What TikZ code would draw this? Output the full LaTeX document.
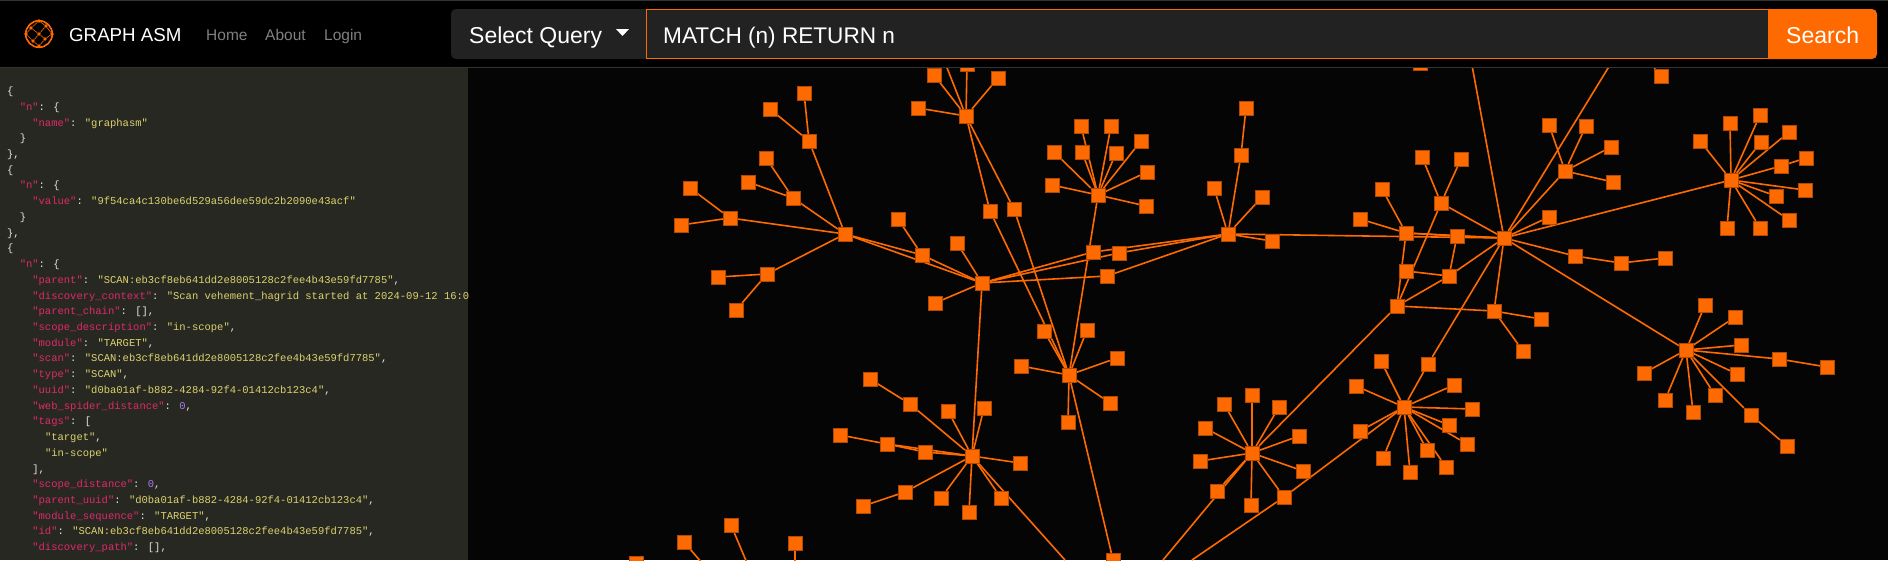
\documentclass[tikz,border=0pt]{standalone}
\usepackage{fontspec}
\setmainfont{Liberation Sans}
\newfontfamily\codefont{Liberation Mono}
\pgfdeclarelayer{backdrop}
\pgfdeclarelayer{edges}
\pgfsetlayers{backdrop,edges,main}
\definecolor{nodeorange}{HTML}{FF6A00}
\definecolor{nodeborder}{HTML}{B04A05}
\definecolor{graphbg}{HTML}{050505}
\definecolor{panelbg}{HTML}{272822}
\definecolor{fieldbg}{HTML}{222222}
\definecolor{navgrey}{HTML}{808080}
\definecolor{rulegrey}{HTML}{333333}
\definecolor{jsonkey}{HTML}{E0286C}
\definecolor{jsonstr}{HTML}{DDD26E}
\definecolor{jsonnum}{HTML}{A57BF0}
\definecolor{jsonpunct}{HTML}{E4E4DE}
\newcommand{\jkey}[1]{\textcolor{jsonkey}{"#1"}}
\newcommand{\jstr}[1]{\textcolor{jsonstr}{"#1"}}
\newcommand{\jnum}[1]{\textcolor{jsonnum}{#1}}

\begin{document}
\begin{tikzpicture}[x=1pt,y=-1pt]

    \tikzstyle{sq}=[draw=nodeborder,line width=0.6pt,fill=nodeorange,inner sep=0pt,minimum size=13.6pt]
    \tikzstyle{every edge}=[draw=nodeorange,line width=1.6pt]
    \tikzstyle{codeline}=[anchor=base west,inner sep=0pt,text=jsonpunct,font=\codefont\fontsize{10.5}{12}\selectfont]
    \tikzstyle{uitext}=[anchor=base west,inner sep=0pt,text=white,font=\fontsize{23}{26}\selectfont]
    \tikzstyle{navtext}=[anchor=base west,inner sep=0pt,text=navgrey,font=\fontsize{15.5}{18}\selectfont]
    \tikzstyle{logodot}=[circle,fill=nodeorange,inner sep=0pt,minimum size=3.6pt]

    \useasboundingbox (0,0) rectangle (1888,560);

    \begin{pgfonlayer}{backdrop}
    \fill[graphbg] (0,0) rectangle (1888,560);
    \end{pgfonlayer}

    % upper left arm
    \node[sq] (a1) at (804,93) {};
    \node[sq] (a2) at (770,109) {};
    \node[sq] (a3) at (809,141) {};
    \node[sq] (b1) at (766,158) {};
    \node[sq] (b2) at (748,182) {};
    \node[sq] (b3) at (793,198) {};
    \node[sq] (c1) at (690,188) {};
    \node[sq] (c2) at (730,218) {};
    \node[sq] (c3) at (681,225) {};
    \node[sq] (hubA) at (845,234) {};
    \node[sq] (d1) at (898,219) {};
    \node[sq] (d2) at (922,255) {};
    \node[sq] (e1) at (767,274) {};
    \node[sq] (e2) at (718,277) {};
    \node[sq] (e3) at (736,310) {};

    % top cluster
    \node[sq] (hubT) at (966,116) {};
    \node[sq] (t1) at (934,75) {};
    \node[sq] (t2) at (918,108) {};
    \node[sq] (t3) at (998,78) {};
    \node[sq] (t4) at (967,64) {};
    \coordinate (freeT) at (940,50);

    % middle
    \node[sq] (f1) at (957,243) {};
    \node[sq] (f2) at (935,303) {};
    \node[sq] (hubB) at (982,283) {};
    \node[sq] (g1) at (990,211) {};
    \node[sq] (g2) at (1014,209) {};
    \node[sq] (i1) at (1093,252) {};
    \node[sq] (i2) at (1119,253) {};
    \node[sq] (i3) at (1107,276) {};

    \node[sq] (hubC) at (1098,195) {};
    \node[sq] (h1) at (1081,126) {};
    \node[sq] (h2) at (1111,126) {};
    \node[sq] (h3) at (1054,152) {};
    \node[sq] (h4) at (1082,152) {};
    \node[sq] (h5) at (1116,153) {};
    \node[sq] (h6) at (1141,141) {};
    \node[sq] (h7) at (1147,172) {};
    \node[sq] (h8) at (1052,185) {};
    \node[sq] (h9) at (1146,206) {};

    \node[sq] (hubD) at (1069,375) {};
    \node[sq] (j1) at (1044,331) {};
    \node[sq] (j2) at (1087,330) {};
    \node[sq] (j3) at (1021,366) {};
    \node[sq] (j4) at (1117,358) {};
    \node[sq] (j5) at (1110,403) {};
    \node[sq] (j6) at (1068,422) {};
    \node[sq] (bot1) at (1113,560) {};

    \node[sq] (hubE) at (1228,234) {};
    \node[sq] (k1) at (1246,108) {};
    \node[sq] (k2) at (1241,155) {};
    \node[sq] (k3) at (1214,188) {};
    \node[sq] (k4) at (1262,197) {};
    \node[sq] (k5) at (1272,241) {};

    % right of middle
    \node[sq] (hubF) at (1406,233) {};
    \node[sq] (m1) at (1382,189) {};
    \node[sq] (m2) at (1360,219) {};
    \node[sq] (m3) at (1457,236) {};
    \node[sq] (n1) at (1406,271) {};
    \node[sq] (n2) at (1449,276) {};
    \node[sq] (hubG) at (1441,203) {};
    \node[sq] (g3) at (1422,157) {};
    \node[sq] (g4) at (1461,159) {};
    \node[sq] (hubI) at (1397,306) {};
    \node[sq] (o1) at (1494,311) {};
    \node[sq] (o2) at (1541,319) {};
    \node[sq] (o3) at (1523,351) {};
    \node[sq] (hubH) at (1504,238) {};
    \node[sq] (q1) at (1549,217) {};
    \node[sq] (q2) at (1575,256) {};
    \node[sq] (q3) at (1621,263) {};
    \node[sq] (q4) at (1665,258) {};
    \node[sq] (hubJ) at (1565,171) {};
    \node[sq] (r1) at (1549,125) {};
    \node[sq] (r2) at (1586,126) {};
    \node[sq] (r3) at (1611,147) {};
    \node[sq] (r4) at (1613,182) {};
    \node[sq] (top1) at (1420,63) {};
    \node[sq] (top2) at (1661,76) {};
    \coordinate (freeH1) at (1471,60);
    \coordinate (freeH2) at (1613,60);
    \coordinate (freeH3) at (1648,60);

    % far right top
    \node[sq] (hubK) at (1731,180) {};
    \node[sq] (s1) at (1700,141) {};
    \node[sq] (s2) at (1730,123) {};
    \node[sq] (s3) at (1760,115) {};
    \node[sq] (s4) at (1789,132) {};
    \node[sq] (s5) at (1761,142) {};
    \node[sq] (s6) at (1781,166) {};
    \node[sq] (s7) at (1806,158) {};
    \node[sq] (s8) at (1805,190) {};
    \node[sq] (s9) at (1776,196) {};
    \node[sq] (s10) at (1789,220) {};
    \node[sq] (s11) at (1760,228) {};
    \node[sq] (s12) at (1727,228) {};

    % far right bottom
    \node[sq] (hubN) at (1686,350) {};
    \node[sq] (u1) at (1705,305) {};
    \node[sq] (u2) at (1735,317) {};
    \node[sq] (u3) at (1741,345) {};
    \node[sq] (u4) at (1779,359) {};
    \node[sq] (u5) at (1827,367) {};
    \node[sq] (u6) at (1737,374) {};
    \node[sq] (u7) at (1644,373) {};
    \node[sq] (u8) at (1665,400) {};
    \node[sq] (u9) at (1693,412) {};
    \node[sq] (u10) at (1715,395) {};
    \node[sq] (u11) at (1751,415) {};
    \node[sq] (u12) at (1787,446) {};

    % lower clusters
    \node[sq] (hubL) at (1404,407) {};
    \node[sq] (p1) at (1428,364) {};
    \node[sq] (p2) at (1381,361) {};
    \node[sq] (p3) at (1356,386) {};
    \node[sq] (p4) at (1454,385) {};
    \node[sq] (p5) at (1472,409) {};
    \node[sq] (p6) at (1449,425) {};
    \node[sq] (p7) at (1467,444) {};
    \node[sq] (p8) at (1360,431) {};
    \node[sq] (p9) at (1427,450) {};
    \node[sq] (p10) at (1446,467) {};
    \node[sq] (p11) at (1383,458) {};
    \node[sq] (p12) at (1410,472) {};

    \node[sq] (hubM) at (1252,453) {};
    \node[sq] (v1) at (1252,395) {};
    \node[sq] (v2) at (1224,404) {};
    \node[sq] (v3) at (1279,407) {};
    \node[sq] (v4) at (1205,428) {};
    \node[sq] (v5) at (1299,436) {};
    \node[sq] (v6) at (1200,461) {};
    \node[sq] (v7) at (1303,471) {};
    \node[sq] (v8) at (1217,491) {};
    \node[sq] (v9) at (1251,505) {};
    \node[sq] (v10) at (1284,497) {};
    \coordinate (freeM1) at (1163,560);
    \coordinate (freeM2) at (1192,560);

    \node[sq] (hubO) at (972,456) {};
    \node[sq] (w1) at (870,379) {};
    \node[sq] (w2) at (910,404) {};
    \node[sq] (w3) at (948,411) {};
    \node[sq] (w4) at (984,408) {};
    \node[sq] (w5) at (840,435) {};
    \node[sq] (w6) at (887,444) {};
    \node[sq] (w7) at (925,452) {};
    \node[sq] (w8) at (1020,463) {};
    \node[sq] (w9) at (905,492) {};
    \node[sq] (w10) at (863,506) {};
    \node[sq] (w11) at (941,498) {};
    \node[sq] (w12) at (969,512) {};
    \node[sq] (w13) at (1001,498) {};
    \coordinate (freeO) at (1065,560);

    \node[sq] (x1) at (731,525) {};
    \node[sq] (x2) at (684,542) {};
    \node[sq] (x3) at (795,543) {};
    \node[sq] (x4) at (636,563) {};
    \coordinate (freeX1) at (747,563);
    \coordinate (freeX2) at (702,563);
    \coordinate (freeX3) at (795,563);

    \begin{pgfonlayer}{edges}
    \path (hubA) edge (a3) edge (b3) edge (c2) edge (e1) edge (d2) edge (hubB);
    \path (a3) edge (a1) edge (a2);
    \path (b3) edge (b1) edge (b2);
    \path (c2) edge (c1) edge (c3);
    \path (e1) edge (e2) edge (e3);
    \path (d2) edge (d1) edge (hubB);
    \path (hubT) edge (t1) edge (t2) edge (t3) edge (t4) edge (freeT) edge (g1) edge (g2);
    \path (hubB) edge (f1) edge (f2) edge (i1) edge (i2) edge (i3) edge (hubO);
    \path (hubE) edge (i1) edge (i2) edge (i3) edge (k2) edge (k3) edge (k4) edge (k5) edge (hubH);
    \path (k2) edge (k1);
    \path (hubC) edge (h1) edge (h2) edge (h3) edge (h4) edge (h5) edge (h6) edge (h7) edge (h8) edge (h9) edge (hubD);
    \path (hubD) edge (g1) edge (g2) edge (j1) edge (j2) edge (j3) edge (j4) edge (j5) edge (j6) edge (bot1);
    \path (hubF) edge (m1) edge (m2) edge (m3) edge (hubH) edge (hubI);
    \path (hubG) edge (g3) edge (g4) edge (hubH) edge (hubI);
    \path (n1) edge (n2);
    \path (n2) edge (m3) edge (hubH) edge (hubI);
    \path (hubI) edge (o1) edge (hubM);
    \path (o1) edge (hubH) edge (o2) edge (o3);
    \path (hubH) edge (m3) edge (q1) edge (q2) edge (hubJ) edge (hubK) edge (hubN) edge (p1) edge (freeH1) edge (freeH2);
    \path (q2) edge (q3);
    \path (q3) edge (q4);
    \path (top2) edge (freeH3);
    \path (hubJ) edge (r1) edge (r2) edge (r3) edge (r4);
    \path (hubK) edge (s1) edge (s2) edge (s3) edge (s4) edge (s5) edge (s6) edge (s8) edge (s9) edge (s10) edge (s11) edge (s12);
    \path (s6) edge (s7);
    \path (hubN) edge (u1) edge (u2) edge (u3) edge (u4) edge (u6) edge (u7) edge (u8) edge (u9) edge (u10) edge (u11);
    \path (u4) edge (u5);
    \path (u11) edge (u12);
    \path (hubL) edge (p1) edge (p2) edge (p3) edge (p4) edge (p5) edge (p6) edge (p7) edge (p8) edge (p9) edge (p10) edge (p11) edge (p12) edge (v10);
    \path (v10) edge (hubM) edge (freeM2);
    \path (hubM) edge (v1) edge (v2) edge (v3) edge (v4) edge (v5) edge (v6) edge (v7) edge (v8) edge (v9) edge (freeM1);
    \path (hubO) edge (w2) edge (w3) edge (w4) edge (w6) edge (w7) edge (w8) edge (w9) edge (w11) edge (w12) edge (w13) edge (freeO);
    \path (w1) edge (w2);
    \path (w5) edge (w6);
    \path (w6) edge (w7);
    \path (w9) edge (w10);
    \path (x1) edge (freeX1);
    \path (x2) edge (freeX2);
    \path (x3) edge (freeX3);
    \end{pgfonlayer}

    % header
    \fill[black] (0,0) rectangle (1888,67);
    \fill[rulegrey] (0,0) rectangle (1888,1);
    \fill[rulegrey] (0,67) rectangle (1888,68);

    \draw[nodeorange,line width=1.6pt] (39,34) circle (13.3);
    \node[logodot] (l1) at (39,34) {};
    \node[logodot] (l2) at (31,28) {};
    \node[logodot] (l3) at (46,26) {};
    \node[logodot] (l4) at (33,41) {};
    \node[logodot] (l5) at (45,39) {};
    \node[logodot] (l6) at (39,21) {};
    \node[logodot] (l7) at (26,34) {};
    \node[logodot] (l8) at (52,34) {};
    \node[logodot] (l9) at (39,46) {};
    \draw[nodeorange,line width=0.6pt] (l1) -- (l2) (l1) -- (l3) (l1) -- (l4) (l1) -- (l5) (l2) -- (l6) (l3) -- (l6) (l2) -- (l7) (l4) -- (l7) (l3) -- (l8) (l5) -- (l8) (l4) -- (l9) (l5) -- (l9);

    \node[anchor=base west,inner sep=0pt,text=white,font=\fontsize{18.7}{22}\selectfont] (brand) at (69,41) {GRAPH ASM};
    \node[navtext] (home) at (206,40) {Home};
    \node[navtext] (about) at (265,40) {About};
    \node[navtext] (login) at (324,40) {Login};

    \fill[fieldbg] (646,9) [rounded corners=5] -- (451,9) -- (451,59) [sharp corners] -- (646,59) -- cycle;
    \node[uitext] (select) at (469,43) {Select Query};
    \fill[white] (616,29) -- (629,29) -- (622.5,36) -- cycle;
    \draw[fill=fieldbg,draw=nodeorange,line width=1pt] (646.5,9.5) rectangle (1768,58.5);
    \node[uitext,font=\fontsize{22.6}{26}\selectfont] (query) at (663,43) {MATCH (n) RETURN n};
    \fill[nodeorange] (1768,9) [rounded corners=5] -- (1877,9) -- (1877,59) [sharp corners] -- (1768,59) -- cycle;
    \node[uitext] (search) at (1786,43) {Search};

    % result panel
    \fill[panelbg] (0,68) rectangle (468,560);
    \begin{scope}
    \clip (0,68) rectangle (468,560);
    \node[codeline] (r0) at (7,94.5) {\{};
    \node[codeline] (r1l) at (19.6,110.2) {\jkey{n}: \{};
    \node[codeline] (r2l) at (32.2,126) {\jkey{name}: \jstr{graphasm}};
    \node[codeline] (r3l) at (19.6,141.7) {\}};
    \node[codeline] (r4l) at (7,157.4) {\},};
    \node[codeline] (r5l) at (7,173.2) {\{};
    \node[codeline] (r6l) at (19.6,188.9) {\jkey{n}: \{};
    \node[codeline] (r7l) at (32.2,204.6) {\jkey{value}: \jstr{9f54ca4c130be6d529a56dee59dc2b2090e43acf}};
    \node[codeline] (r8l) at (19.6,220.3) {\}};
    \node[codeline] (r9l) at (7,236.1) {\},};
    \node[codeline] (r10l) at (7,251.8) {\{};
    \node[codeline] (r11l) at (19.6,267.5) {\jkey{n}: \{};
    \node[codeline] (r12l) at (32.2,283.3) {\jkey{parent}: \jstr{SCAN:eb3cf8eb641dd2e8005128c2fee4b43e59fd7785},};
    \node[codeline] (r13l) at (32.2,299) {\jkey{discovery\_context}: \jstr{Scan vehement\_hagrid started at 2024-09-12 16:02}};
    \node[codeline] (r14l) at (32.2,314.7) {\jkey{parent\_chain}: [],};
    \node[codeline] (r15l) at (32.2,330.5) {\jkey{scope\_description}: \jstr{in-scope},};
    \node[codeline] (r16l) at (32.2,346.2) {\jkey{module}: \jstr{TARGET},};
    \node[codeline] (r17l) at (32.2,361.9) {\jkey{scan}: \jstr{SCAN:eb3cf8eb641dd2e8005128c2fee4b43e59fd7785},};
    \node[codeline] (r18l) at (32.2,377.6) {\jkey{type}: \jstr{SCAN},};
    \node[codeline] (r19l) at (32.2,393.4) {\jkey{uuid}: \jstr{d0ba01af-b882-4284-92f4-01412cb123c4},};
    \node[codeline] (r20l) at (32.2,409.1) {\jkey{web\_spider\_distance}: \jnum{0},};
    \node[codeline] (r21l) at (32.2,424.8) {\jkey{tags}: [};
    \node[codeline] (r22l) at (44.8,440.6) {\jstr{target},};
    \node[codeline] (r23l) at (44.8,456.3) {\jstr{in-scope}};
    \node[codeline] (r24l) at (32.2,472) {],};
    \node[codeline] (r25l) at (32.2,487.8) {\jkey{scope\_distance}: \jnum{0},};
    \node[codeline] (r26l) at (32.2,503.5) {\jkey{parent\_uuid}: \jstr{d0ba01af-b882-4284-92f4-01412cb123c4},};
    \node[codeline] (r27l) at (32.2,519.2) {\jkey{module\_sequence}: \jstr{TARGET},};
    \node[codeline] (r28l) at (32.2,534.9) {\jkey{id}: \jstr{SCAN:eb3cf8eb641dd2e8005128c2fee4b43e59fd7785},};
    \node[codeline] (r29l) at (32.2,550.7) {\jkey{discovery\_path}: [],};
    \end{scope}

\end{tikzpicture}
\end{document}
